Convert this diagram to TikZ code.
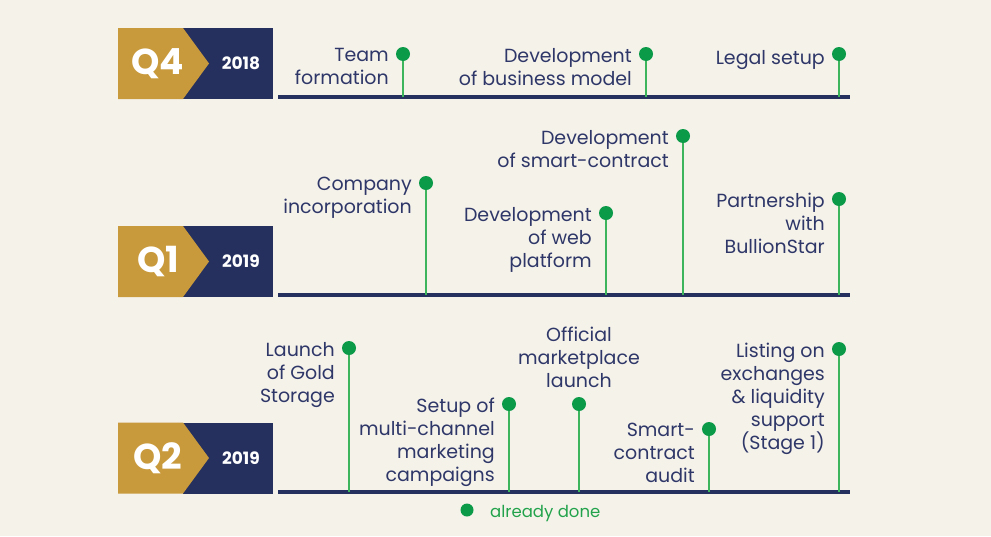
\documentclass[tikz,border=0pt]{standalone}
\usepackage{fontspec}
\setmainfont{Poppins}
\usetikzlibrary{positioning,calc}
\definecolor{bgcream}{HTML}{F5F2EA}
\definecolor{navy}{HTML}{25305F}
\definecolor{gold}{HTML}{C99A3B}
\definecolor{dotgreen}{HTML}{0B9A48}
\definecolor{stemgreen}{HTML}{3DB55C}
\definecolor{txtnavy}{HTML}{2E3768}
\definecolor{legendgreen}{HTML}{22A34B}
\tikzset{
  milestone/.style={circle, fill=dotgreen, inner sep=0pt, minimum size=14pt},
  stem/.style={stemgreen, line width=2pt},
  baseline/.style={navy, line width=4pt},
  lbl/.style={txtnavy, font=\fontsize{19}{23}\selectfont, align=right, inner sep=0pt,
    anchor=north east, execute at begin node=\strut},
  quarter/.style={white, font=\fontsize{36}{36}\selectfont\bfseries},
  year/.style={white, font=\fontsize{17}{17}\selectfont\bfseries}
}
\begin{document}
\begin{tikzpicture}[x=1pt, y=-1pt]
\fill[bgcream] (0,0) rectangle (991,536);
\useasboundingbox (0,0) rectangle (991,536);
% badges
\foreach \yc/\q/\yr in {63.5/Q4/2018, 261.5/Q1/2019, 458/Q2/2019}{
  \fill[navy] (183,\yc-35.5) rectangle (273,\yc+35.5);
  \fill[gold] (118,\yc-35.5) -- (183,\yc-35.5) -- (209,\yc) -- (183,\yc+35.5) -- (118,\yc+35.5) -- cycle;
  \node[quarter] at (158,\yc) {\q};
  \node[year] at (241,\yc) {\yr};
}
% time lines
\coordinate (a4) at (278,96.5); \coordinate (b4) at (850,96.5);
\coordinate (a1) at (278,295);  \coordinate (b1) at (850,295);
\coordinate (a2) at (278,492);  \coordinate (b2) at (850,492);
\draw[baseline] (a4) -- (b4);
\draw[baseline] (a1) -- (b1);
\draw[baseline] (a2) -- (b2);
% Q4 2018
\node[milestone] (team) at (403,54) {};
\node[milestone] (busmod) at (646,54) {};
\node[milestone] (legal) at (839,54) {};
\draw[stem] (team) -- (team |- a4);
\draw[stem] (busmod) -- (busmod |- a4);
\draw[stem] (legal) -- (legal |- a4);
\node[lbl] at ($(team)+(-14,-6)$) {Team\\formation};
\node[lbl] at ($(busmod)+(-14,-6)$) {Development\\of business model};
\node[lbl] at ($(legal)+(-14,-6)$) {Legal setup};
% Q1 2019
\node[milestone] (incorp) at (426,183) {};
\node[milestone] (web) at (606,213) {};
\node[milestone] (smart) at (683,136) {};
\node[milestone] (partner) at (839,199) {};
\draw[stem] (incorp) -- (incorp |- a1);
\draw[stem] (web) -- (web |- a1);
\draw[stem] (smart) -- (smart |- a1);
\draw[stem] (partner) -- (partner |- a1);
\node[lbl] at ($(incorp)+(-14,-6)$) {Company\\incorporation};
\node[lbl] at ($(web)+(-14,-6)$) {Development\\of web\\platform};
\node[lbl] at ($(smart)+(-14,-6)$) {Development\\of smart-contract};
\node[lbl] at ($(partner)+(-14,-6)$) {Partnership\\with\\BullionStar};
% Q2 2019
\node[milestone] (storage) at (349,348) {};
\node[milestone] (channel) at (509,404) {};
\node[milestone] (market) at (579,404) {};
\node[milestone] (audit) at (709,429) {};
\node[milestone] (listing) at (839,349) {};
\draw[stem] (storage) -- (storage |- a2);
\draw[stem] (channel) -- (channel |- a2);
\draw[stem] (market) -- (market |- a2);
\draw[stem] (audit) -- (audit |- a2);
\draw[stem] (listing) -- (listing |- a2);
\node[lbl] at ($(storage)+(-14,-6)$) {Launch\\of Gold\\Storage};
\node[lbl] at ($(channel)+(-14,-6)$) {Setup of\\multi-channel\\marketing\\campaigns};
\node[lbl, align=center, anchor=south] at ($(market)+(0,-9)$) {Official\\marketplace\\launch};
\node[lbl] at ($(audit)+(-14,-6)$) {Smart-\\contract\\audit};
\node[lbl] at ($(listing)+(-14,-6)$) {Listing on\\exchanges\\\& liquidity\\support\\(Stage 1)};
% legend
\node[milestone, minimum size=13pt] (done) at (467,510) {};
\node[anchor=base west, inner sep=0pt, legendgreen, font=\fontsize{16.5}{16.5}\selectfont] (donetxt) at ($(done)+(23,7)$) {already done};
\end{tikzpicture}
\end{document}
